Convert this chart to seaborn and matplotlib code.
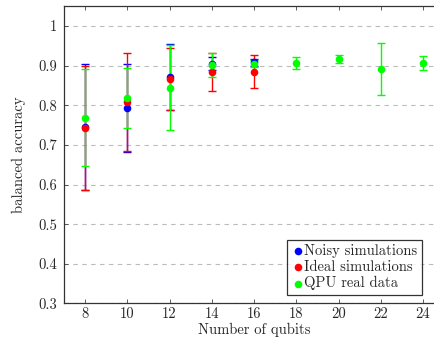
import matplotlib
matplotlib.use("Agg")
import matplotlib.pyplot as plt
import seaborn as sns
import pandas as pd

sns.set_style("white")
plt.rcParams['font.family'] = ['cmr10', 'DejaVu Serif']
plt.rcParams['axes.formatter.use_mathtext'] = True

# datos
qubits_sim = [8, 10, 12, 14, 16]
noisy_acc = [0.745, 0.793, 0.871, 0.905, 0.908]
noisy_err = [0.160, 0.112, 0.083, 0.017, 0.008]
ideal_acc = [0.742, 0.808, 0.867, 0.884, 0.885]
ideal_err = [0.157, 0.123, 0.078, 0.048, 0.042]

qubits_qpu = [8, 10, 12, 14, 16, 18, 20, 22, 24]
qpu_acc = [0.769, 0.818, 0.844, 0.902, 0.905, 0.906, 0.917, 0.892, 0.906]
qpu_err = [0.122, 0.076, 0.107, 0.031, 0.009, 0.015, 0.010, 0.066, 0.017]

series = [
    ("Noisy simulations", qubits_sim, noisy_acc, noisy_err, "#0000ff"),
    ("Ideal simulations", qubits_sim, ideal_acc, ideal_err, "#ff0000"),
    ("QPU real data", qubits_qpu, qpu_acc, qpu_err, "#00ff00"),
]

fig = plt.figure(figsize=(4.35, 3.41), dpi=100)
# el eje derecho queda fuera de la imagen, como en el original
ax = fig.add_axes([0.147, 0.110, 0.874, 0.872])

for name, x, y, err, col in series:
    ax.errorbar(x, y, yerr=err, fmt="none", ecolor=col, elinewidth=1.0,
                capsize=3, capthick=1.0, zorder=2)
    sns.scatterplot(x=x, y=y, ax=ax, color=col, s=30, edgecolor=col,
                    linewidth=0, label=name, zorder=3)

ax.set_xlim(7, 25)
ax.set_ylim(0.3, 1.05)
ax.set_xticks(range(8, 25, 2))
ax.set_xticklabels([str(v) for v in range(8, 25, 2)])
yt = [0.3, 0.4, 0.5, 0.6, 0.7, 0.8, 0.9, 1.0]
ax.set_yticks(yt)
ax.set_yticklabels(["0.3", "0.4", "0.5", "0.6", "0.7", "0.8", "0.9", "1"])
ax.tick_params(direction="in", length=3, labelsize=10.5, width=0.6, color="#444444")
ax.tick_params(axis="x", bottom=True, top=True, pad=3)
ax.tick_params(axis="y", left=True, right=False, pad=5)
ax.grid(True, axis="y", linestyle=(0, (4, 4)), color="#bbbbbb", linewidth=0.8)
for s in ax.spines.values():
    s.set_color("#333333")
    s.set_linewidth(0.9)

ax.set_xlabel("Number of qubits", fontsize=10.5, labelpad=1)
ax.set_ylabel("balanced accuracy", fontsize=10.5, labelpad=9)

leg = ax.legend(loc="lower right", bbox_to_anchor=(0.964, 0.0), fontsize=10.5,
                frameon=True, fancybox=False, handletextpad=0.0, handlelength=0.9,
                borderpad=0.3, labelspacing=0.15, borderaxespad=0.6)
leg.get_frame().set_edgecolor("black")
leg.get_frame().set_linewidth(0.9)

fig.savefig("out.png", dpi=100)
